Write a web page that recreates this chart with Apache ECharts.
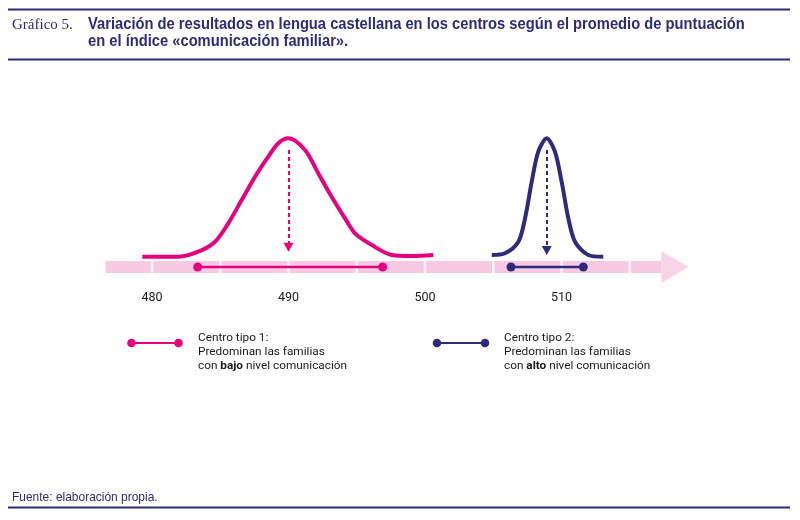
<!DOCTYPE html>
<html>
<head>
<meta charset="utf-8">
<script src="https://cdn.jsdelivr.net/npm/echarts@6/dist/echarts.min.js"></script>
<style>html,body{margin:0;padding:0;background:#fff}#c{width:800px;height:520px}</style>
</head>
<body>
<div id="c"></div>
<script>
// ---- data ----
const xTicks = [480, 490, 500, 510];
const bandGaps = [480, 485, 490, 495, 500, 505, 510, 515];
const axisStart = 476.6;
const axisArrowBase = 517.3;
const axisArrowMid = 518.3;
const tipo1Curve = [[479.29,10.3],[481.93,10.3],[483.39,15.3],[484.62,25.3],[485.59,43.7],[486.57,67],[487.55,90.3],[488.52,110.3],[489.25,123.7],[490,128.7],[491.21,117],[492.18,93.7],[493.16,70.3],[494.14,48.7],[494.87,33.7],[496.10,22],[497.56,12],[499.03,11],[500.61,12]];
const tipo2Curve = [[504.89,12],[505.86,13.7],[506.84,25.3],[507.33,48.7],[507.82,85.3],[508.30,115.3],[508.92,128.7],[509.52,115.3],[510.01,85.3],[510.50,48.7],[510.99,25.3],[511.96,12],[513.06,10.3]];
const tipo1Mean = 490;
const tipo2Mean = 508.92;
const tipo1Range = [483.35, 496.9];
const tipo2Range = [506.3, 511.6];
const meanArrowTop = 117;
const tipo1ArrowEnd = 19.8;
const tipo2ArrowEnd = 16.5;

const PINK = '#e5007e';
const NAVY = '#2f2a7c';
const BAND = '#f8c9e2';
const INK = '#2e2a78';

const chart = echarts.init(document.getElementById('c'), null, {renderer: 'canvas'});

function meanArrow(x, end, color) {
  return {
    silent: true,
    symbol: ['none', 'triangle'],
    symbolSize: [10, 9],
    label: {show: false},
    lineStyle: {color: color, width: 2, type: [4, 3]},
    data: [[{coord: [x, meanArrowTop]}, {coord: [x, end]}]]
  };
}

function legendItem(x1, x2, color, tx, lines) {
  return [
    {type: 'line', shape: {x1: x1, y1: 343, x2: x2, y2: 343}, style: {stroke: color, lineWidth: 2}},
    {type: 'circle', shape: {cx: x1, cy: 343, r: 4.3}, style: {fill: color}},
    {type: 'circle', shape: {cx: x2, cy: 343, r: 4.3}, style: {fill: color}},
    {type: 'text', x: tx, y: 331.5, style: {
      text: lines,
      fill: '#1a1a1a',
      font: '11.8px Roboto',
      lineHeight: 14,
      verticalAlign: 'top',
      rich: {
        n: {fontFamily: 'Roboto', fontSize: 11.8, fill: '#1a1a1a', lineHeight: 14},
        b: {fontFamily: 'Roboto', fontSize: 11.8, fontWeight: 'bold', fill: '#1a1a1a', lineHeight: 14}
      }
    }}
  ];
}

const TITLE_FONT = 'bold 16px "Liberation Sans", Arial, sans-serif';

const option = {
  animation: false,
  backgroundColor: '#fff',
  grid: {left: 15.5, right: 102, top: 127, bottom: 233},
  xAxis: {
    type: 'value', min: 470, max: 520, interval: 10,
    axisLine: {show: false}, axisTick: {show: false}, splitLine: {show: false},
    axisLabel: {
      margin: 4, fontSize: 12.5, color: '#1a1a1a', fontFamily: 'Roboto',
      formatter: v => xTicks.includes(v) ? String(v) : ''
    }
  },
  yAxis: {type: 'value', min: -20, max: 140, show: false},
  graphic: [
    {type: 'line', shape: {x1: 8, y1: 9.5, x2: 790, y2: 9.5}, style: {stroke: INK, lineWidth: 2}},
    {type: 'line', shape: {x1: 8, y1: 59.5, x2: 790, y2: 59.5}, style: {stroke: INK, lineWidth: 2}},
    {type: 'line', shape: {x1: 8, y1: 507.5, x2: 790, y2: 507.5}, style: {stroke: INK, lineWidth: 2}},
    {type: 'text', x: 12, y: 25, style: {text: 'Gráfico 5.', font: '15px "Liberation Serif", serif', fill: INK, verticalAlign: 'middle'}},
    {type: 'text', x: 88, y: 25, scaleX: 0.92, style: {text: 'Variación de resultados en lengua castellana en los centros según el promedio de puntuación', font: TITLE_FONT, fill: INK, verticalAlign: 'middle'}},
    {type: 'text', x: 88, y: 42, scaleX: 0.92, style: {text: 'en el índice «comunicación familiar».', font: TITLE_FONT, fill: INK, verticalAlign: 'middle'}},
    {type: 'text', x: 12, y: 497, scaleX: 0.92, style: {text: 'Fuente: elaboración propia.', font: '13px "Liberation Sans", Arial, sans-serif', fill: INK, verticalAlign: 'middle'}}
  ]
    .concat(legendItem(131.5, 178.5, PINK, 198, '{n|Centro tipo 1:}\n{n|Predominan las familias}\n{n|con }{b|bajo}{n| nivel comunicación}'))
    .concat(legendItem(437, 485, NAVY, 504, '{n|Centro tipo 2:}\n{n|Predominan las familias}\n{n|con }{b|alto}{n| nivel comunicación}')),
  series: [
    {
      name: 'eje', type: 'line', silent: true, symbol: 'none', z: 1,
      data: [[axisStart, 0], [axisArrowBase, 0]],
      lineStyle: {color: BAND, width: 12}
    },
    {
      name: 'flecha', type: 'scatter', silent: true, z: 1,
      data: [[axisArrowMid, 0]],
      symbol: 'triangle', symbolRotate: -90, symbolSize: [32, 27],
      itemStyle: {color: BAND}
    },
    {
      name: 'cortes', type: 'scatter', silent: true, z: 2,
      data: bandGaps.map(v => [v, 0]),
      symbol: 'rect', symbolSize: [2.5, 13],
      itemStyle: {color: '#ffffff'}
    },
    {
      name: 'Centro tipo 1', type: 'line', smooth: 0.3, symbol: 'none', z: 3,
      data: tipo1Curve,
      lineStyle: {color: PINK, width: 4},
      itemStyle: {color: PINK},
      markLine: meanArrow(tipo1Mean, tipo1ArrowEnd, PINK)
    },
    {
      name: 'Centro tipo 2', type: 'line', smooth: 0.3, symbol: 'none', z: 3,
      data: tipo2Curve,
      lineStyle: {color: NAVY, width: 4},
      itemStyle: {color: NAVY},
      markLine: meanArrow(tipo2Mean, tipo2ArrowEnd, NAVY)
    },
    {
      name: 'Rango tipo 1', type: 'line', symbol: 'circle', symbolSize: 9, z: 4, silent: true,
      data: tipo1Range.map(v => [v, 0]),
      lineStyle: {color: PINK, width: 2.5},
      itemStyle: {color: PINK}
    },
    {
      name: 'Rango tipo 2', type: 'line', symbol: 'circle', symbolSize: 9, z: 4, silent: true,
      data: tipo2Range.map(v => [v, 0]),
      lineStyle: {color: NAVY, width: 2.5},
      itemStyle: {color: NAVY}
    }
  ]
};
chart.setOption(option);
</script>
</body>
</html>
